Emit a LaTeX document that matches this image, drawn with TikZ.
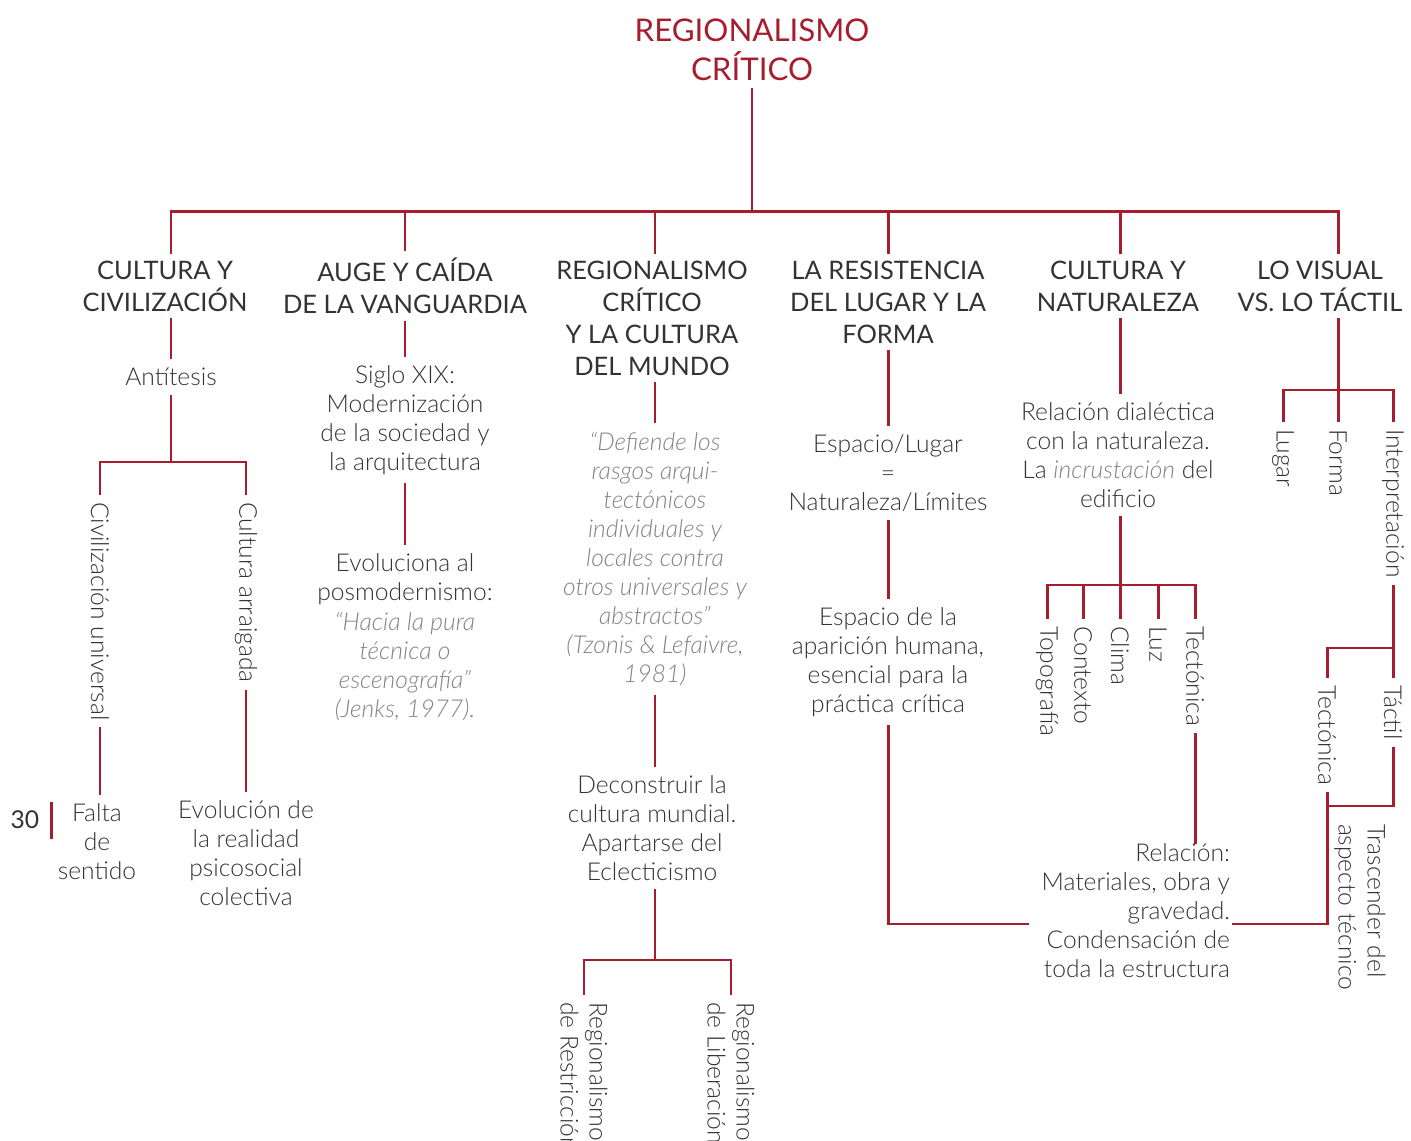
\documentclass[tikz,border=0pt]{standalone}
\usepackage{fontspec}
\setmainfont{Lato}[UprightFont=* Light, ItalicFont=* Light Italic]
\newfontfamily\headfont{Lato}
\definecolor{crit}{RGB}{166,30,45}
\definecolor{ink}{RGB}{51,51,51}
\definecolor{quot}{RGB}{130,130,130}
\tikzset{
  link/.style={draw=crit, line width=1.7pt},
  head/.style={font=\headfont\fontsize{14.5}{18.2}\selectfont, text=ink, align=center, inner sep=0pt, outer sep=4pt},
  body/.style={font=\fontsize{14}{16.5}\selectfont, text=ink, align=center, inner sep=0pt, outer sep=5pt},
  quote/.style={body, font=\fontsize{14}{16.5}\selectfont\itshape, text=quot},
  vert/.style={body, rotate=-90, anchor=west, align=left, outer sep=4pt}
}
\begin{document}
\begin{tikzpicture}[x=0.02cm,y=-0.02cm]
\useasboundingbox (0,0) rectangle (1411,1141);
\clip (0,0) rectangle (1411,1141);

\node[head, text=crit, font=\headfont\fontsize{17.8}{22.1}\selectfont] (title) at (752,50) {REGIONALISMO\\CRÍTICO};
\coordinate (hub) at (752,212);

\node[head] (h1) at (165,286) {CULTURA Y\\CIVILIZACIÓN};
\node[head] (h2) at (405,286) {AUGE Y CAÍDA\\DE LA VANGUARDIA};
\node[head] (h3) at (652,318) {REGIONALISMO\\CRÍTICO\\Y LA CULTURA\\DEL MUNDO};
\node[head] (h4) at (888,302) {LA RESISTENCIA\\DEL LUGAR Y LA\\FORMA};
\node[head] (h5) at (1118,286) {CULTURA Y\\NATURALEZA};
\node[head] (h6) at (1320,286) {LO VISUAL\\VS. LO TÁCTIL};

% cultura y civilizacion
\node[body] (anti) at (171,377) {Antítesis};
\coordinate (j1) at (171,462);
\node[vert] (civ) at (100,495) {Civilización universal};
\node[vert] (arr) at (246,495) {Cultura arraigada};
\node[body] (falta) at (97,842) {Falta\\de\\sentido};
\node[body] (evol) at (246,853) {Evolución de\\la realidad\\psicosocial\\colectiva};
\draw[link] (anti) -- (anti |- h1.south);
\draw[link] (anti) -- (j1);
\draw[link] (civ.west) |- (j1) -| (arr.west);
\draw[link] (civ.east) -- (civ.east |- falta.north);
\draw[link] (arr.east) -- (arr.east |- evol.north);

% vanguardia
\node[body] (sig) at (405,420) {Siglo XIX:\\Modernización\\de la sociedad y\\la arquitectura};
\node[body] (evo) at (405,579) {Evoluciona al\\posmodernismo:};
\node[quote] (jenks) at (405,666) {“Hacia la pura\\técnica o\\escenografía”\\(Jenks, 1977).};
\draw[link] (sig) -- (sig |- h2.south);
\draw[link] (sig) -- (evo);

% cultura del mundo
\node[quote] (defi) at (655,559) {“Defiende los\\rasgos arqui-\\tectónicos\\individuales y\\locales contra\\otros universales y\\abstractos”\\(Tzonis \& Lefaivre,\\1981)};
\node[body] (dec) at (652,828) {Deconstruir la\\cultura mundial.\\Apartarse del\\Eclecticismo};
\coordinate (j3) at (655,960);
\node[vert] (restr) at (584,995) {Regionalismo\\de Restricción};
\node[vert] (liber) at (731,995) {Regionalismo\\de Liberación};
\draw[link] (defi.north) -- (defi.north |- h3.south);
\draw[link] (defi.south) -- (defi.south |- dec.north);
\draw[link] (j3) -- (j3 |- dec.south);
\draw[link] (restr.west) |- (j3) -| (liber.west);

% lugar y forma
\node[body] (esp) at (888,473) {Espacio/Lugar\\=\\Naturaleza/Límites};
\node[body] (apar) at (888,662) {Espacio de la\\aparición humana,\\esencial para la\\práctica crítica};
\node[body, align=right, anchor=east, outer sep=0pt] (rel2) at (1230,911) {Relación:\\Materiales, obra y\\gravedad.\\Condensación de\\toda la estructura};
\draw[link] (esp.north) -- (esp.north |- h4.south);
\draw[link] (esp) -- (apar);
\draw[link] (apar.south) |- ([xshift=-7pt,yshift=-7.4pt]rel2.west);

% naturaleza
\node[body] (rel) at (1118,455) {Relación dialéctica\\con la naturaleza.\\La \textit{\color{quot}incrustación} del\\edificio};
\coordinate (j5) at (1120,585);
\node[vert] (topo) at (1047,619) {Topografía};
\node[vert] (cont) at (1083,619) {Contexto};
\node[vert] (clima) at (1120,619) {Clima};
\node[vert] (luz) at (1158,619) {Luz};
\node[vert] (tecto) at (1195,619) {Tectónica};
\draw[link] (j5 |- rel.north) -- (j5 |- h5.south);
\draw[link] (j5 |- rel.south) -- (j5);
\draw[link] (topo.west) |- (j5) -| (tecto.west);
\foreach \n in {cont,clima,luz}
  \draw[link] (\n.west) -- (\n.west |- j5);
\draw[link] (tecto.east) -- (tecto.east |- rel2.north);

% visual vs tactil
\coordinate (j6) at (1338,390);
\node[vert] (lugar) at (1283,422) {Lugar};
\node[vert] (forma) at (1338,422) {Forma};
\node[vert] (interp) at (1393,422) {Interpretación};
\coordinate (j7) at (1393,648);
\node[vert] (tect2) at (1327,678) {Tectónica};
\node[vert] (tactil) at (1393,678) {Táctil};
\coordinate (j8) at (1327,806);
\node[vert] (trasc) at (1360,817) {Trascender del\\aspecto técnico};
\draw[link] (j6) -- (j6 |- h6.south);
\draw[link] (lugar.west) |- (j6) -| (interp.west);
\draw[link] (forma.west) -- (forma.west |- j6);
\draw[link] (interp.east) -- (j7);
\draw[link] (tect2.west) |- (j7) -- (tactil.west);
\draw[link] (tactil.east) |- (j8);
\draw[link] (tect2.east) |- ([xshift=1pt,yshift=-7.4pt]rel2.east);

% tronco
\draw[link] (title) -- (hub);
\foreach \h/\c in {h1/anti,h2/sig,h3/defi,h4/esp,h5/j5,h6/j6}
  \draw[link] (hub) -| (\c |- \h.north);

% folio
\node[body, outer sep=0pt, font=\headfont\fontsize{14}{16.5}\selectfont] (folio) at (25,820) {30};
\draw[crit, line width=1.5pt] ([xshift=7pt]folio.east) ++(0,-18) -- ++(0,37);
\end{tikzpicture}
\end{document}
